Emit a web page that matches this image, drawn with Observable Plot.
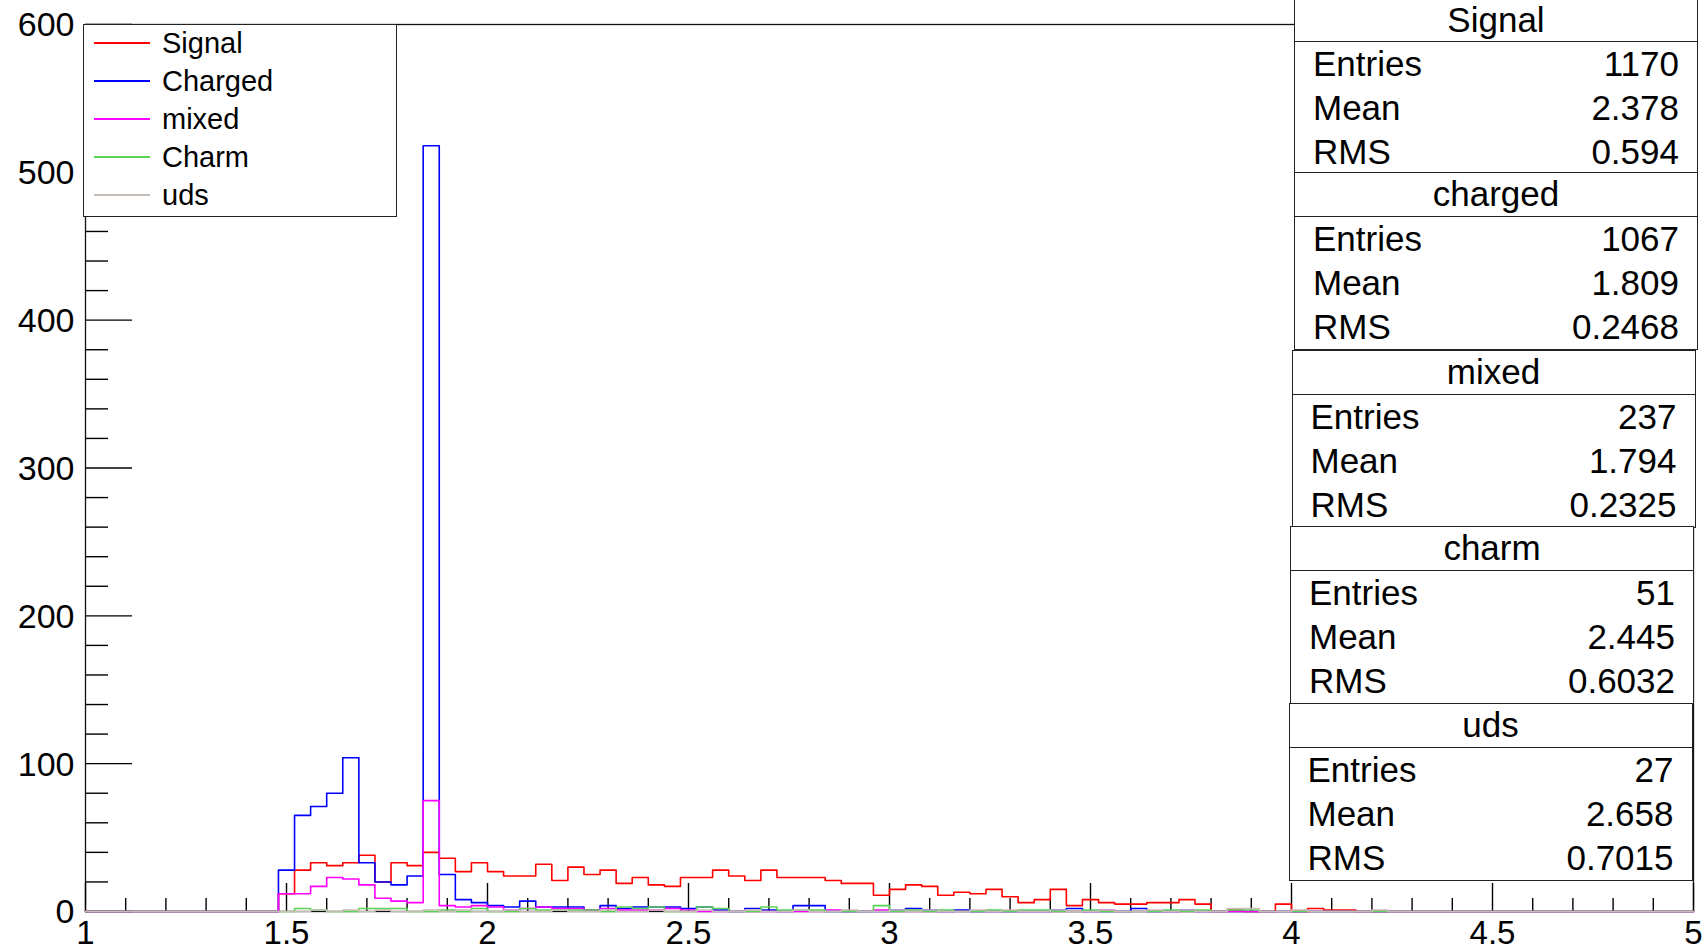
<!DOCTYPE html>
<html>
<head>
<meta charset="utf-8">
<script src="https://cdn.jsdelivr.net/npm/d3@7"></script>
<script src="https://cdn.jsdelivr.net/npm/@observablehq/plot@0.6"></script>
<style>
  html, body { margin: 0; padding: 0; background: #fff; }
  body { font-family: "Liberation Sans", Arial, Helvetica, sans-serif; }
  #wrap { position: relative; width: 1707px; height: 951px; overflow: hidden; background: #fff; }
  #wrap > svg { position: absolute; left: 0; top: 0; }
  .legend { position: absolute; box-sizing: border-box; background: #fff; border: 1.4px solid #222; }
  .legend .row { position: absolute; left: 0; height: 0; width: 100%; }
  .legend .swatch { position: absolute; left: 10px; top: -2px; }
  .legend .lab { position: absolute; left: 78px; top: -18px; line-height: 36px; font-size: 29px; color: #000; white-space: nowrap; }
  .stat { position: absolute; box-sizing: border-box; background: #fff; border: 1.5px solid #222; width: 404px; }
  .stat .title { height: 44px; line-height: 42px; text-align: center; font-size: 35px; border-bottom: 1.5px solid #222; box-sizing: border-box; }
  .stat.first .title { height: 42px; line-height: 40px; }
  .stat .r { height: 44px; line-height: 44px; font-size: 35px; position: relative; }
  .stat .r .k { position: absolute; left: 18px; }
  .stat .r .v { position: absolute; right: 18px; }
</style>
</head>
<body>
<div id="wrap"></div>
<script>
// ---------------- data ----------------
const binLow = 1, binWidth = 0.04, nBins = 100;

const signal = [
  0,0,0,0,0,0,0,0,0,0,
  0,0,12,28,33,31,33,38,20,33,
  31,40,36,27,33,27,24,24,32,21,
  30,25,28,19,23,18,17,23,23,28,
  24,21,28,23,23,23,21,19,19,11,
  15,18,17,11,13,12,15,10,6,8,
  15,4,8,6,5,5,6,6,8,5,
  0,1,0,0,5,0,2,1,1,0,
  0,0,0,0,0,0,0,0,0,0,
  0,0,0,0,0,0,0,0,0,0
];
const charged = [
  0,0,0,0,0,0,0,0,0,0,
  0,0,28,65,71,80,104,33,20,18,
  24,518,25,8,6,4,3,7,3,3,
  3,1,4,2,3,3,3,2,3,1,
  0,2,1,0,4,4,0,0,0,0,
  1,2,1,0,1,0,0,0,0,0,
  1,2,0,0,0,2,0,0,1,0,
  0,0,0,0,0,0,0,0,0,0,
  0,0,0,0,0,0,0,0,0,0,
  0,0,0,0,0,0,0,0,0,0
];
const mixed = [
  0,0,0,0,0,0,0,0,0,0,
  0,0,12,12,17,23,22,18,9,7,
  6,75,4,3,4,3,1,2,3,2,
  2,1,2,1,1,1,2,1,0,0,
  0,0,0,0,0,0,1,0,0,1,
  0,0,0,0,0,0,0,0,0,0,
  0,0,0,1,0,0,0,0,0,0,
  0,0,0,0,0,0,0,0,0,0,
  0,0,0,0,0,0,0,0,0,0,
  0,0,0,0,0,0,0,0,0,0
];
const charm = [
  0,0,0,0,0,0,0,0,0,0,
  0,0,0,2,1,0,0,2,2,2,
  0,0,1,0,2,0,0,2,1,1,
  1,1,0,3,2,3,0,0,3,2,
  0,0,3,1,1,1,0,0,0,4,
  0,1,0,1,0,0,1,0,1,1,
  0,0,1,0,0,0,0,1,0,1,
  0,1,1,0,0,0,0,0,0,0,
  0,0,0,0,0,0,0,0,0,0,
  0,0,0,0,0,0,0,0,0,0
];
const uds = [
  0,0,0,0,0,0,0,0,0,0,
  0,0,0,0,1,0,1,0,1,0,
  0,1,0,1,0,0,1,0,0,1,
  0,0,1,0,0,1,0,0,1,0,
  0,1,0,0,1,0,0,1,0,0,
  1,0,1,0,0,1,0,1,0,0,
  1,0,0,1,0,0,1,0,1,0,
  0,2,2,0,0,1,0,0,0,0,
  1,0,0,0,0,0,0,0,0,0,
  0,0,0,0,0,0,0,0,0,0
];

const legendLabels = ["Signal", "Charged", "mixed", "Charm", "uds"];
const seriesColors = ["#ff0000", "#0000ff", "#ff00ff", "#59d454", "#c6beb6"];

const statTitles  = ["Signal", "charged", "mixed", "charm", "uds"];
const statEntries = ["1170", "1067", "237", "51", "27"];
const statMean    = ["2.378", "1.809", "1.794", "2.445", "2.658"];
const statRMS     = ["0.594", "0.2468", "0.2325", "0.6032", "0.7015"];

const xMajor = [1, 1.5, 2, 2.5, 3, 3.5, 4, 4.5, 5];
const xMinor = d3.range(10, 51).map(d => d / 10).filter(d => !xMajor.includes(d));
const yMajor = [0, 100, 200, 300, 400, 500, 600];
const yMinor = d3.range(0, 601, 20).filter(d => !yMajor.includes(d));

// ---------------- chart ----------------
const seriesList = [signal, charged, mixed, charm, uds];
function steps(values) {
  const pts = values.map((v, k) => ({x: binLow + k * binWidth, y: v}));
  pts.push({x: binLow + nBins * binWidth, y: values[values.length - 1]});
  return pts;
}

const font = "Liberation Sans, Arial, Helvetica, sans-serif";
const fmt = d3.format("~g");

const marks = [
  Plot.frame({stroke: "#111", strokeWidth: 1.3}),
  Plot.ruleX(xMinor, {x: d => d, y1: 0, y2: 0, insetTop: -13, stroke: "#000", strokeWidth: 1.4}),
  Plot.ruleX(xMajor, {x: d => d, y1: 0, y2: 0, insetTop: -28, stroke: "#000", strokeWidth: 1.4}),
  Plot.ruleY(yMinor, {y: d => d, x1: binLow, x2: binLow, insetRight: -23, stroke: "#000", strokeWidth: 1.4}),
  Plot.ruleY(yMajor, {y: d => d, x1: binLow, x2: binLow, insetRight: -47, stroke: "#000", strokeWidth: 1.4}),
  ...seriesList.map((s, i) => Plot.line(steps(s), {x: "x", y: "y", curve: "step-after", stroke: seriesColors[i], strokeWidth: 1.6})),
  Plot.text(xMajor, {x: d => d, y: 0, text: d => fmt(d), dy: 22, fontSize: 33, fontFamily: font, fill: "#000", lineAnchor: "middle"}),
  Plot.text(yMajor, {x: binLow, y: d => d, text: d => fmt(d), dx: -11, dy: 1, fontSize: 34, fontFamily: font, fill: "#000", textAnchor: "end", lineAnchor: "middle"})
];

const chart = Plot.plot({
  width: 1707,
  height: 951,
  marginLeft: 85,
  marginRight: 14,
  marginTop: 24,
  marginBottom: 40,
  style: {fontFamily: font, background: "#fff", overflow: "visible"},
  x: {domain: [1, 5], axis: null},
  y: {domain: [0, 600], axis: null},
  marks
});

const wrap = document.getElementById("wrap");
wrap.appendChild(chart);

// ---------------- legend (overlay) ----------------
const leg = document.createElement("div");
leg.className = "legend";
Object.assign(leg.style, {left: "83px", top: "24px", width: "314px", height: "193px"});
legendLabels.forEach((lab, i) => {
  const row = document.createElement("div");
  row.className = "row";
  row.style.top = (17.5 + 38.1 * i) + "px";
  const sw = document.createElementNS("http://www.w3.org/2000/svg", "svg");
  sw.setAttribute("class", "swatch");
  sw.setAttribute("width", "56");
  sw.setAttribute("height", "4");
  const ln = document.createElementNS("http://www.w3.org/2000/svg", "line");
  ln.setAttribute("x1", "0"); ln.setAttribute("x2", "56");
  ln.setAttribute("y1", "2"); ln.setAttribute("y2", "2");
  ln.setAttribute("stroke", seriesColors[i]);
  ln.setAttribute("stroke-width", "1.8");
  sw.appendChild(ln);
  const t = document.createElement("div");
  t.className = "lab";
  t.textContent = lab;
  row.appendChild(sw);
  row.appendChild(t);
  leg.appendChild(row);
});
wrap.appendChild(leg);

// ---------------- stats boxes (overlay) ----------------
const boxLeft = [1294, 1294, 1291.5, 1290, 1288.5];
const boxTop  = [-1.5, 172, 349.5, 526, 703];
statTitles.forEach((title, i) => {
  const box = document.createElement("div");
  box.className = i === 0 ? "stat first" : "stat";
  box.style.left = boxLeft[i] + "px";
  box.style.top = boxTop[i] + "px";
  const t = document.createElement("div");
  t.className = "title";
  t.textContent = title;
  box.appendChild(t);
  [["Entries", statEntries[i]], ["Mean", statMean[i]], ["RMS", statRMS[i]]].forEach(([k, v]) => {
    const r = document.createElement("div");
    r.className = "r";
    r.innerHTML = `<span class="k">${k}</span><span class="v">${v}</span>`;
    box.appendChild(r);
  });
  wrap.appendChild(box);
});
</script>
</body>
</html>
